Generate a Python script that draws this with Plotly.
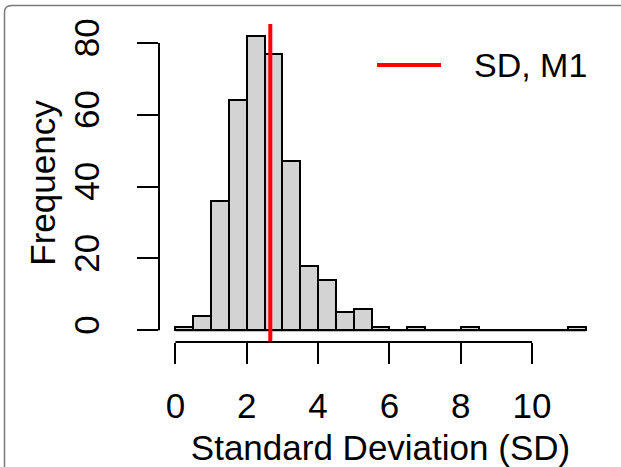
import plotly.graph_objects as go

# ---- data ----
bin_starts = [0.0, 0.5, 1.0, 1.5, 2.0, 2.5, 3.0, 3.5, 4.0, 4.5, 5.0, 5.5,
              6.0, 6.5, 7.0, 7.5, 8.0, 8.5, 9.0, 9.5, 10.0, 10.5, 11.0]
counts = [1, 4, 36, 64, 82, 77, 47, 18, 14, 5, 6, 1,
          0, 1, 0, 0, 1, 0, 0, 0, 0, 0, 1]
bin_width = 0.5
sd_m1 = 2.66
x_ticks = [0, 2, 4, 6, 8, 10]
y_ticks = [0, 20, 40, 60, 80]
legend_label = "SD, M1"
x_title = "Standard Deviation (SD)"
y_title = "Frequency"

W, H = 621, 467
ML, MR, MT, MB = 159, 19, 24, 125
PW, PH = W - ML - MR, H - MT - MB

def px(X):
    return (X - ML) / PW

def py(Y):
    return (H - MB - Y) / PH

FONT = "Liberation Sans, Arial, Helvetica, sans-serif"
FS = 35

centers = [s + bin_width / 2 for s in bin_starts]
bin_end = bin_starts[-1] + bin_width

fig = go.Figure()
fig.add_trace(go.Bar(
    x=centers, y=counts, width=[bin_width] * len(counts),
    marker=dict(color="#D3D3D3", line=dict(color="black", width=2)),
    showlegend=False, hoverinfo="x+y",
))
# zero-height bins drawn as baseline outline
fig.add_trace(go.Scatter(
    x=[bin_starts[0], bin_end], y=[0, 0], mode="lines",
    line=dict(color="black", width=2), showlegend=False, hoverinfo="skip",
))

xr = [bin_starts[0] - 0.04 * (bin_end - bin_starts[0]), bin_end + 0.04 * (bin_end - bin_starts[0])]
ymax = max(counts)
yr = [-0.04 * ymax, ymax * 1.04]

shapes = []
shapes.append(dict(type="line", xref="x", yref="paper", x0=sd_m1, x1=sd_m1, y0=0, y1=1,
                   line=dict(color="#FF0000", width=4), layer="above"))
shapes.append(dict(type="line", xref="paper", yref="y", x0=0, x1=0, y0=y_ticks[0], y1=y_ticks[-1],
                   line=dict(color="black", width=2)))
shapes.append(dict(type="line", xref="x", yref="paper", x0=x_ticks[0], x1=x_ticks[-1], y0=0, y1=0,
                   line=dict(color="black", width=2)))
shapes.append(dict(type="line", xref="paper", yref="paper", x0=px(377), x1=px(441), y0=py(65), y1=py(65),
                   line=dict(color="#FF0000", width=4)))
r = 7
x0f, y0f = 4.5, 5.5
path = (f"M {px(x0f)},{py(H + 5)} L {px(x0f)},{py(y0f + r)} "
        f"Q {px(x0f)},{py(y0f)} {px(x0f + r)},{py(y0f)} L {px(W + 5)},{py(y0f)}")
shapes.append(dict(type="path", xref="paper", yref="paper", path=path,
                   line=dict(color="#7a7a7a", width=1.5)))

fig.update_layout(
    width=W, height=H,
    margin=dict(l=ML, r=MR, t=MT, b=MB, pad=0, autoexpand=False),
    paper_bgcolor="white", plot_bgcolor="white",
    font=dict(family=FONT, size=FS, color="black"),
    showlegend=False,
    bargap=0,
    shapes=shapes,
    xaxis=dict(range=xr, tickvals=x_ticks, ticktext=[str(v) for v in x_ticks],
               showgrid=False, zeroline=False, showline=False, automargin=False,
               ticks="outside", ticklen=21, tickwidth=2, tickcolor="black",
               ticklabelstandoff=12,
               title=dict(text=x_title, standoff=11, font=dict(size=FS))),
    yaxis=dict(range=yr, tickvals=y_ticks, ticktext=[str(v) for v in y_ticks],
               showgrid=False, zeroline=False, showline=False, automargin=False,
               ticks="outside", ticklen=21, tickwidth=2, tickcolor="black",
               tickangle=-90, ticklabelstandoff=24,
               title=dict(text=y_title, standoff=0, font=dict(size=FS))),
    annotations=[dict(text=legend_label, xref="paper", yref="paper",
                      x=px(472), y=py(65), xanchor="left", yanchor="middle",
                      showarrow=False, font=dict(size=34))],
)

fig.write_html("out.html", config={"displayModeBar": False},
               post_script="document.body.style.margin='0';document.body.style.padding='0';")
